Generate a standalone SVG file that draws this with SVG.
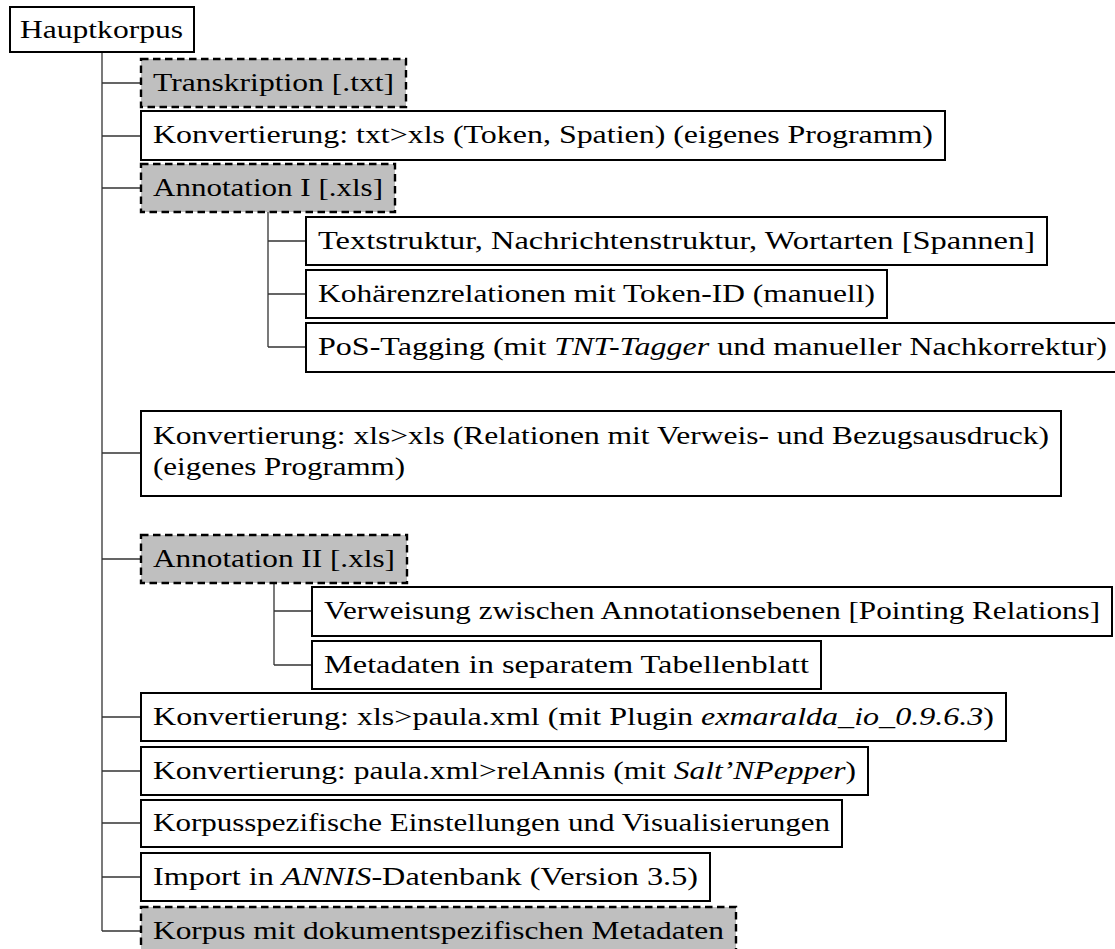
<svg xmlns="http://www.w3.org/2000/svg" width="1115" height="949" viewBox="0 0 1115 949">
<style>
.box{fill:#ffffff;stroke:#000;stroke-width:2}
.dbox{fill:#bfbfbf;stroke:#000;stroke-width:2.4;stroke-dasharray:7.5 4.5}
.lbl{font-family:"Liberation Serif","Times New Roman",serif;font-size:25px;fill:#000}
.it{font-style:italic}
.con{fill:none;stroke:#333;stroke-width:1.3}
</style>
<rect width="1115" height="949" fill="#ffffff"/>
<g id="connectors">
<path class="con" d="M102 52V931 M102 83H141 M102 136H141 M102 188H141 M102 453H141 M102 559H141 M102 717H141 M102 771H141 M102 823H141 M102 877H141 M102 931H141"/>
<path class="con" d="M268 212V347 M268 241H306 M268 294H306 M268 347H306"/>
<path class="con" d="M274 583V665 M274 611H312 M274 665H312"/>
</g>
<g id="n0"><rect class="box" x="10" y="7" width="184" height="45"/><text class="lbl" x="20" y="37.5" textLength="163" lengthAdjust="spacingAndGlyphs">Hauptkorpus</text></g>
<g id="n1"><rect class="dbox" x="141" y="59" width="265" height="48"/><text class="lbl" x="153" y="90.5" textLength="241" lengthAdjust="spacingAndGlyphs">Transkription [.txt]</text></g>
<g id="n2"><rect class="box" x="141" y="111" width="804" height="49"/><text class="lbl" x="153" y="143" textLength="780" lengthAdjust="spacingAndGlyphs">Konvertierung: txt&gt;xls (Token, Spatien) (eigenes Programm)</text></g>
<g id="n3"><rect class="dbox" x="141" y="164" width="254" height="48"/><text class="lbl" x="153" y="195.5" textLength="230" lengthAdjust="spacingAndGlyphs">Annotation I [.xls]</text></g>
<g id="n4"><rect class="box" x="306" y="217" width="741" height="48"/><text class="lbl" x="318" y="248.5" textLength="717" lengthAdjust="spacingAndGlyphs">Textstruktur, Nachrichtenstruktur, Wortarten [Spannen]</text></g>
<g id="n5"><rect class="box" x="306" y="270" width="581" height="48"/><text class="lbl" x="318" y="301.5" textLength="557" lengthAdjust="spacingAndGlyphs">Kohärenzrelationen mit Token-ID (manuell)</text></g>
<g id="n6"><rect class="box" x="306" y="323" width="813" height="49"/><text class="lbl" x="318" y="354.5" textLength="789" lengthAdjust="spacingAndGlyphs">PoS-Tagging (mit <tspan class="it">TNT-Tagger</tspan> und manueller Nachkorrektur)</text></g>
<g id="n7"><rect class="box" x="141" y="411" width="920" height="85"/><text class="lbl" x="153" y="444" textLength="896" lengthAdjust="spacingAndGlyphs">Konvertierung: xls&gt;xls (Relationen mit Verweis- und Bezugsausdruck)</text><text class="lbl" x="153" y="475" textLength="252" lengthAdjust="spacingAndGlyphs">(eigenes Programm)</text></g>
<g id="n8"><rect class="dbox" x="141" y="535" width="266" height="48"/><text class="lbl" x="153" y="566.5" textLength="242" lengthAdjust="spacingAndGlyphs">Annotation II [.xls]</text></g>
<g id="n9"><rect class="box" x="312" y="587" width="800" height="49"/><text class="lbl" x="324" y="619" textLength="776" lengthAdjust="spacingAndGlyphs">Verweisung zwischen Annotationsebenen [Pointing Relations]</text></g>
<g id="n10"><rect class="box" x="312" y="641" width="509" height="48"/><text class="lbl" x="324" y="672.5" textLength="485" lengthAdjust="spacingAndGlyphs">Metadaten in separatem Tabellenblatt</text></g>
<g id="n11"><rect class="box" x="141" y="693" width="865" height="48"/><text class="lbl" x="153" y="724.5" textLength="841" lengthAdjust="spacingAndGlyphs">Konvertierung: xls&gt;paula.xml (mit Plugin <tspan class="it">exmaralda_io_0.9.6.3</tspan>)</text></g>
<g id="n12"><rect class="box" x="141" y="747" width="727" height="48"/><text class="lbl" x="153" y="778.5" textLength="703" lengthAdjust="spacingAndGlyphs">Konvertierung: paula.xml&gt;relAnnis (mit <tspan class="it">Salt’NPepper</tspan>)</text></g>
<g id="n13"><rect class="box" x="141" y="800" width="701" height="47"/><text class="lbl" x="153" y="831" textLength="677" lengthAdjust="spacingAndGlyphs">Korpusspezifische Einstellungen und Visualisierungen</text></g>
<g id="n14"><rect class="box" x="141" y="853" width="569" height="48"/><text class="lbl" x="153" y="884.5" textLength="545" lengthAdjust="spacingAndGlyphs">Import in <tspan class="it">ANNIS</tspan>-Datenbank (Version 3.5)</text></g>
<g id="n15"><rect class="dbox" x="141" y="907" width="595" height="48"/><text class="lbl" x="153" y="938.5" textLength="571" lengthAdjust="spacingAndGlyphs">Korpus mit dokumentspezifischen Metadaten</text></g>
</svg>
